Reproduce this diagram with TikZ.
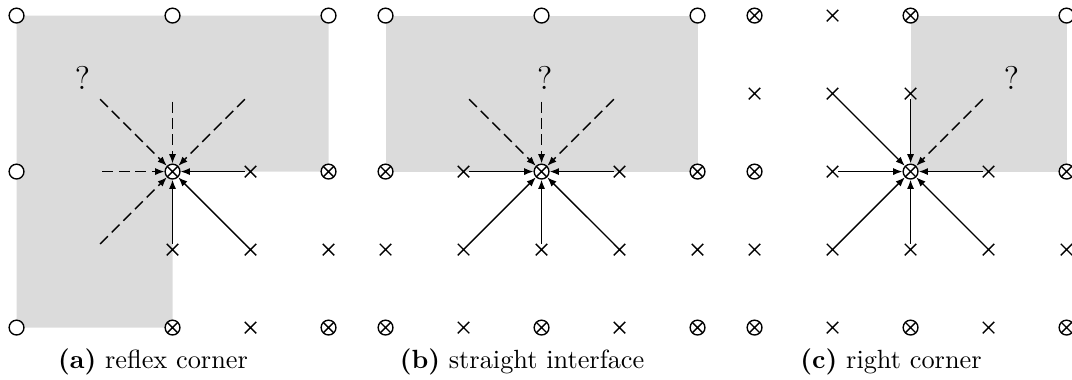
\documentclass[tikz,border=0pt]{standalone}
\usetikzlibrary{arrows.meta,shapes.misc}
\definecolor{shade}{gray}{0.86}
\tikzset{
  pt/.style={circle,inner sep=0pt,minimum size=0.19cm},
  opn/.style={pt,draw,fill=white,line width=0.5pt},
  otm/.style={pt,draw,fill=white,line width=0.5pt,
    path picture={\draw[line width=0.5pt]
      (path picture bounding box.south west)--(path picture bounding box.north east)
      (path picture bounding box.north west)--(path picture bounding box.south east);}},
  crs/.style={cross out,draw,inner sep=0pt,minimum size=0.13cm,line width=0.5pt},
  emp/.style={pt},
  arr/.style={-{Latex[length=3.4pt,width=2.6pt]},line width=0.5pt},
  darr/.style={arr,dash pattern=on 4pt off 2pt},
  qm/.style={font=\large,inner sep=0pt},
  captext/.style={anchor=base,inner sep=0pt,font=\fontsize{9.6}{11}\selectfont},
  region/.style={fill=shade,draw=none}
}
\begin{document}
\begin{tikzpicture}
\useasboundingbox (-0.212,-0.66) rectangle (13.532,4.2);
% ---------- panel (a)
\begin{scope}
  \fill[region] (0,0) -- (0,4) -- (4,4) -- (4,2) -- (2,2) -- (2,0) -- cycle;
  \foreach \x/\y in {0/4,2/4,4/4,0/2,0/0} \node[opn] (a-\x\y) at (\x,\y) {};
  \foreach \x/\y in {2/2,4/2,2/0,4/0} \node[otm] (a-\x\y) at (\x,\y) {};
  \foreach \x/\y in {3/2,2/1,3/1,4/1,3/0} \node[crs] (a-\x\y) at (\x,\y) {};
  \foreach \x/\y in {1/3,2/3,3/3,1/2,1/1} \node[emp] (a-\x\y) at (\x,\y) {};
  \foreach \s in {13,23,33,12,11} \draw[darr] (a-\s) -- (a-22);
  \foreach \s in {32,21,31} \draw[arr] (a-\s) -- (a-22);
  \node[qm] (a-q) at (0.846,3.205) {?};
  \node[captext] (a-cap) at (1.75,-0.52) {\textbf{(a)} reflex corner};
\end{scope}
% ---------- panel (b)
\begin{scope}[xshift=4.731cm]
  \fill[region] (0,2) rectangle (4,4);
  \foreach \x/\y in {0/4,2/4,4/4} \node[opn] (b-\x\y) at (\x,\y) {};
  \foreach \x/\y in {0/2,2/2,4/2,0/0,2/0,4/0} \node[otm] (b-\x\y) at (\x,\y) {};
  \foreach \x/\y in {1/2,3/2,0/1,1/1,2/1,3/1,4/1,1/0,3/0} \node[crs] (b-\x\y) at (\x,\y) {};
  \foreach \x/\y in {1/3,2/3,3/3} \node[emp] (b-\x\y) at (\x,\y) {};
  \foreach \s in {13,23,33} \draw[darr] (b-\s) -- (b-22);
  \foreach \s in {12,32,11,21,31} \draw[arr] (b-\s) -- (b-22);
  \node[qm] (b-q) at (2.04,3.205) {?};
  \node[captext] (b-cap) at (1.75,-0.52) {\textbf{(b)} straight interface};
\end{scope}
% ---------- panel (c)
\begin{scope}[xshift=9.462cm]
  \fill[region] (2,2) rectangle (4,4);
  \foreach \x/\y in {4/4} \node[opn] (c-\x\y) at (\x,\y) {};
  \foreach \x/\y in {0/4,2/4,0/2,2/2,4/2,0/0,2/0,4/0} \node[otm] (c-\x\y) at (\x,\y) {};
  \foreach \x/\y in {1/4,0/3,1/3,2/3,1/2,3/2,0/1,1/1,2/1,3/1,4/1,1/0,3/0} \node[crs] (c-\x\y) at (\x,\y) {};
  \foreach \x/\y in {3/3} \node[emp] (c-\x\y) at (\x,\y) {};
  \foreach \s in {33} \draw[darr] (c-\s) -- (c-22);
  \foreach \s in {13,23,12,32,11,21,31} \draw[arr] (c-\s) -- (c-22);
  \node[qm] (c-q) at (3.295,3.205) {?};
  \node[captext] (c-cap) at (1.75,-0.52) {\textbf{(c)} right corner};
\end{scope}
\end{tikzpicture}
\end{document}
